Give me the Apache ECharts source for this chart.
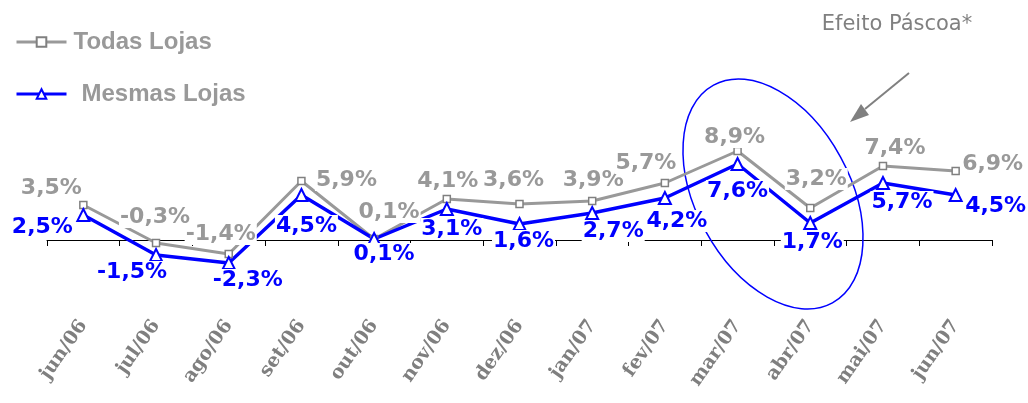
<!DOCTYPE html>
<html>
<head>
<meta charset="utf-8">
<script src="https://cdn.jsdelivr.net/npm/echarts@6/dist/echarts.min.js"></script>
<style>
  html, body { margin: 0; padding: 0; background: #fff; }
  #main { width: 1028px; height: 403px; }
</style>
</head>
<body>
<div id="main"></div>
<script>
// dados
const categories = ['jun/06', 'jul/06', 'ago/06', 'set/06', 'out/06', 'nov/06', 'dez/06',
  'jan/07', 'fev/07', 'mar/07', 'abr/07', 'mai/07', 'jun/07'];
const todasLojas = [3.5, -0.3, -1.4, 5.9, 0.1, 4.1, 3.6, 3.9, 5.7, 8.9, 3.2, 7.4, 6.9];
const mesmasLojas = [2.5, -1.5, -2.3, 4.5, 0.1, 3.1, 1.6, 2.7, 4.2, 7.6, 1.7, 5.7, 4.5];

// deslocamento dos rótulos (px, centro do rótulo em relação ao ponto)
const todasOffsets = [[-32, -17], [-1, -26], [-8, -20], [45, -1], [15, -27], [1, -18], [-6, -24],
  [1, -21], [-19, -20], [-3, -14], [6, -29], [12, -18], [37, -7]];
const mesmasOffsets = [[-41, 12], [-24, 17], [19, 17], [5, 31], [10, 15], [5, 20], [4, 17],
  [21, 18], [12, 23], [0, 27], [2, 19], [19, 19], [40, 11]];

const fmt = v => v.toFixed(1).replace('.', ',') + '%';

function withLabels(values, offsets) {
  return values.map((v, i) => ({ value: v, label: { offset: offsets[i] } }));
}

const chart = echarts.init(document.getElementById('main'));

const labelBase = {
  show: true,
  position: 'inside',
  fontFamily: 'DejaVu Sans',
  fontWeight: 'bold',
  fontSize: 22,
  backgroundColor: '#fff',
  padding: [0, 1],
  formatter: p => fmt(p.value)
};

const option = {
  animation: false,
  grid: { left: 47, right: 36, top: 140, bottom: 113, outerBoundsMode: 'none' },
  legend: {
    orient: 'vertical',
    left: 15,
    top: 30,
    padding: 0,
    itemWidth: 50,
    itemHeight: 12,
    itemGap: 28,
    lineStyle: { width: 3 },
    textStyle: {
      fontFamily: 'Liberation Sans',
      fontWeight: 'bold',
      fontSize: 24,
      lineHeight: 24,
      color: '#999999'
    },
    data: [
      { name: 'Todas Lojas', textStyle: { padding: [0, 0, 0, 2] } },
      { name: 'Mesmas Lojas', textStyle: { padding: [0, 0, 0, 10] } }
    ]
  },
  xAxis: {
    type: 'category',
    data: categories,
    boundaryGap: true,
    axisLine: { onZero: true, lineStyle: { color: '#000', width: 1 } },
    axisTick: { show: true, length: 6, inside: false, lineStyle: { color: '#000' } },
    axisLabel: {
      rotate: 55,
      margin: 32,
      color: '#7f7f7f',
      fontFamily: 'DejaVu Serif',
      fontWeight: 'bold',
      fontSize: 19
    },
    splitLine: { show: false }
  },
  yAxis: {
    type: 'value',
    min: -5,
    max: 10,
    show: false,
    splitLine: { show: false }
  },
  graphic: [
    {
      type: 'ellipse',
      x: 773, y: 194,
      rotation: 0.5,
      shape: { cx: 0, cy: 0, rx: 77, ry: 124 },
      style: { fill: 'none', stroke: '#0000ff', lineWidth: 1.5 },
      z: 1
    },
    {
      type: 'line',
      shape: { x1: 909, y1: 73, x2: 865, y2: 109 },
      style: { stroke: '#808080', lineWidth: 2 },
      z: 10
    },
    {
      type: 'polygon',
      shape: { points: [[850, 122], [869, 115], [861, 104]] },
      style: { fill: '#808080' },
      z: 10
    },
    {
      type: 'text',
      x: 897, y: 25,
      style: {
        text: 'Efeito Páscoa*',
        fontFamily: 'DejaVu Sans',
        fontSize: 21,
        fill: '#808080',
        align: 'center',
        verticalAlign: 'middle'
      },
      z: 10
    }
  ],
  series: [
    {
      name: 'Todas Lojas',
      type: 'line',
      data: withLabels(todasLojas, todasOffsets),
      symbol: 'rect',
      symbolSize: 7,
      showAllSymbol: true,
      lineStyle: { color: '#999999', width: 3 },
      itemStyle: { color: '#fff', borderColor: '#808080', borderWidth: 1.5 },
      label: Object.assign({}, labelBase, { color: '#999999' })
    },
    {
      name: 'Mesmas Lojas',
      type: 'line',
      data: withLabels(mesmasLojas, mesmasOffsets),
      symbol: 'triangle',
      symbolSize: 12,
      showAllSymbol: true,
      lineStyle: { color: '#0000ff', width: 3.5 },
      itemStyle: { color: '#fff', borderColor: '#0000ff', borderWidth: 2 },
      label: Object.assign({}, labelBase, { color: '#0000ff' })
    }
  ]
};

chart.setOption(option);
</script>
</body>
</html>
